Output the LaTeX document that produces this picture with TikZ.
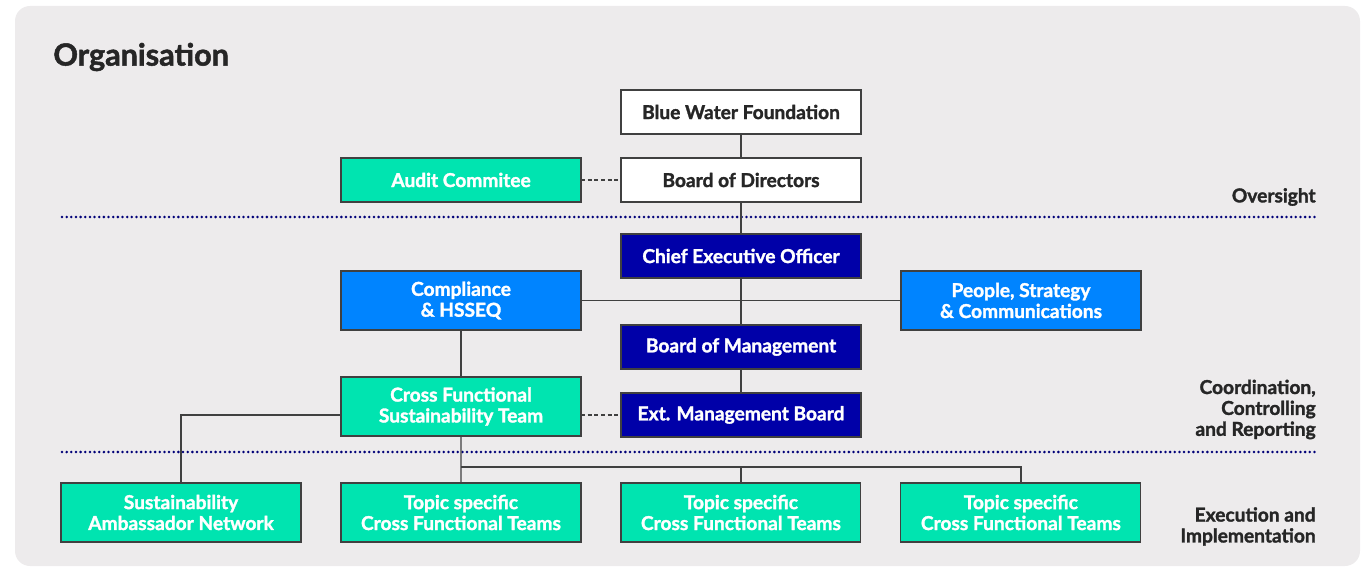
\documentclass[tikz,border=0pt]{standalone}
\usepackage{fontspec}
\setmainfont{Lato}[BoldFeatures={FakeBold=1.6}]
\usepackage{xcolor}
\usepackage{tikz}
\usetikzlibrary{positioning}

\definecolor{panel}{HTML}{EDEBEC}
\definecolor{mint}{HTML}{00E4B0}
\definecolor{navy}{HTML}{0000A8}
\definecolor{azure}{HTML}{0084FF}
\definecolor{ink}{HTML}{262626}
\definecolor{wire}{HTML}{404040}
\definecolor{dotline}{HTML}{000078}

\begin{document}
\begin{tikzpicture}[
  x=0.02cm, y=-0.02cm,
  unit/.style={draw=wire, line width=0.7pt, minimum width=4.8cm, minimum height=0.88cm, font=\fontsize{10.9}{11.9}\selectfont\bfseries, align=center, inner sep=2pt, outer sep=0pt},
  board/.style={unit, fill=white, text=ink},
  exec/.style={unit, fill=navy, text=white},
  staff/.style={unit, fill=azure, text=white, minimum height=1.18cm},
  team/.style={unit, fill=mint, text=white},
  teamtall/.style={team, minimum height=1.18cm},
  link/.style={wire, line width=0.8pt},
  dashlink/.style={wire, line width=0.8pt, dash pattern=on 2.2pt off 1.6pt},
  sep/.style={dotline, line width=1.6pt, line cap=round, dash pattern=on 0pt off 2.65pt},
  tier/.style={font=\fontsize{10.9}{11.9}\selectfont\bfseries, text=ink, align=right, inner sep=0pt, anchor=east}
]
  \useasboundingbox (0,0) rectangle (1362,574);
  \fill[panel, rounded corners=0.3cm] (15,6) rectangle (1360,566);

  % Title
  \node[font=\fontsize{17.4}{20}\selectfont\bfseries, text=ink, anchor=west, inner sep=0pt] (title) at (53,57) {Organisation};

  % Oversight
  \node[board] (bwf) at (741,112) {Blue Water Foundation};
  \node[board, below=0.48cm of bwf] (bod) {Board of Directors};
  \node[team, left=0.8cm of bod] (audit) {Audit Commitee};

  % Coordination
  \node[exec, below=0.64cm of bod] (ceo) {Chief Executive Officer};
  \node[exec, below=0.94cm of ceo] (bom) {Board of Management};
  \node[exec, below=0.48cm of bom] (emb) {Ext. Management Board};
  \node[staff] (comp) at (461,300.5) {Compliance\\\& HSSEQ};
  \node[staff] (psc) at (1021,300.5) {People, Strategy\\\& Communications};
  \node[teamtall] (cfst) at (461,406.5) {Cross Functional\\Sustainability Team};

  % Execution
  \node[teamtall] (san) at (181,512.5) {Sustainability\\Ambassador Network};
  \node[teamtall, right=0.8cm of san] (topicA) {Topic specific\\Cross Functional Teams};
  \node[teamtall, right=0.8cm of topicA] (topicB) {Topic specific\\Cross Functional Teams};
  \node[teamtall, right=0.8cm of topicB] (topicC) {Topic specific\\Cross Functional Teams};

  % Tier labels
  \node[tier] (lblover) at (1316,197) {Oversight};
  \node[tier] (lblcoord) at (1316,409.5) {Coordination,\\Controlling\\and Reporting};
  \node[tier] (lblexec) at (1316,526.5) {Execution and\\Implementation};

  % Separators
  \draw[sep] (62,217) -- (1316,217);
  \draw[sep] (62,452) -- (1316,452);

  % Connectors
  \draw[link] (bwf) -- (bod);
  \draw[link] (bod) -- (ceo);
  \draw[link] (ceo) -- (bom);
  \draw[link] (bom) -- (emb);
  \draw[link] (comp) -- (psc);
  \draw[link] (comp) -- (cfst);
  \draw[dashlink] (audit) -- (bod);
  \draw[dashlink] (cfst.east |- emb) -- (emb);
  \draw[link] (cfst.west |- emb) -| (san);
  \draw[link] (cfst) -- (topicA);
  \coordinate (bus) at (461,467);
  \draw[link] (bus) -| (topicB);
  \draw[link] (bus) -| (topicC);
\end{tikzpicture}
\end{document}
